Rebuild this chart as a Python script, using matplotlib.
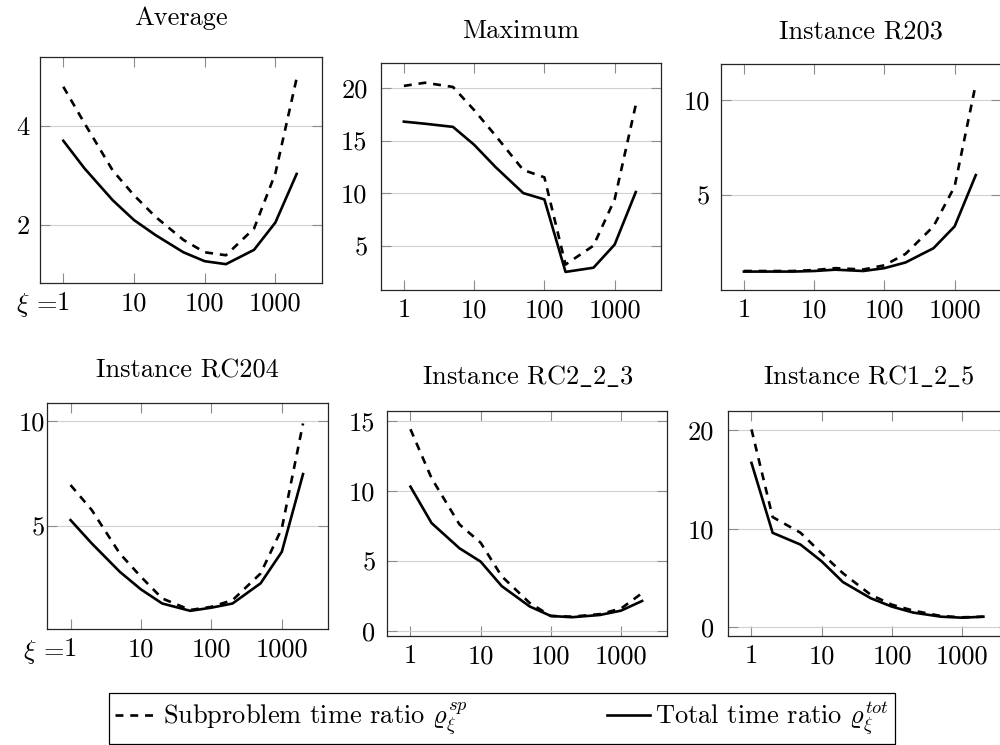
import matplotlib
matplotlib.use("Agg")
import matplotlib.pyplot as plt
from matplotlib.lines import Line2D

plt.rcParams['font.family'] = ['cmr10', 'DejaVu Serif']
plt.rcParams['mathtext.fontset'] = 'cm'
plt.rcParams['axes.unicode_minus'] = False
plt.rcParams['axes.formatter.use_mathtext'] = True

# ---------------- data ----------------
xi = [1, 2, 5, 10, 20, 50, 100, 200, 500, 1000, 2000]
x_ticks = [1, 10, 100, 1000]
x_ticklabels = ["1", "10", "100", "1000"]

titles = ["Average", "Maximum", "Instance R203",
          "Instance RC204", r"Instance RC2$\_$2$\_$3", r"Instance RC1$\_$2$\_$5"]

avg_sp = [4.79, 4.05, 3.10, 2.60, 2.17, 1.70, 1.45, 1.39, 1.93, 3.04, 4.96]
avg_tot = [3.70, 3.14, 2.50, 2.10, 1.80, 1.45, 1.27, 1.21, 1.50, 2.05, 3.03]

max_sp = [20.2, 20.5, 20.1, 17.9, 15.5, 12.2, 11.5, 3.2, 5.0, 9.4, 18.4]
max_tot = [16.8, 16.6, 16.3, 14.6, 12.5, 10.0, 9.4, 2.5, 2.9, 5.1, 10.1]

r203_sp = [1.0, 1.0, 1.0, 1.05, 1.15, 1.08, 1.3, 1.9, 3.35, 5.45, 10.85]
r203_tot = [0.97, 0.97, 0.97, 1.0, 1.07, 1.0, 1.15, 1.45, 2.2, 3.35, 6.05]

rc204_sp = [6.97, 5.78, 3.71, 2.6, 1.57, 1.02, 1.17, 1.49, 2.76, 4.9, 9.9]
rc204_tot = [5.3, 4.19, 2.84, 2.0, 1.33, 0.98, 1.13, 1.33, 2.29, 3.79, 7.49]

rc223_sp = [14.4, 10.9, 7.6, 6.3, 3.9, 2.0, 1.07, 1.02, 1.2, 1.6, 2.7]
rc223_tot = [10.3, 7.7, 5.9, 4.95, 3.2, 1.75, 1.07, 0.98, 1.14, 1.45, 2.14]

rc125_sp = [20.1, 11.2, 9.6, 7.5, 5.5, 3.3, 2.3, 1.7, 1.15, 1.02, 1.08]
rc125_tot = [16.7, 9.6, 8.4, 6.7, 4.6, 2.95, 2.1, 1.5, 1.08, 0.98, 1.08]

y_ticks = [[2, 4], [5, 10, 15, 20], [5, 10], [5, 10], [0, 5, 10, 15], [0, 10, 20]]
sp_series = [avg_sp, max_sp, r203_sp, rc204_sp, rc223_sp, rc125_sp]
tot_series = [avg_tot, max_tot, r203_tot, rc204_tot, rc223_tot, rc125_tot]

legend_labels = [r"Subproblem time ratio $\varrho_\xi^{sp}$",
                 r"Total time ratio $\varrho_\xi^{tot}$"]

# ---------------- layout ----------------
W, H = 1000, 745
boxes_px = [  # left, top, right, bottom in pixels
    (40, 57, 322, 283),
    (380.7, 63.3, 661, 290),
    (720.7, 64, 1001, 290),
    (47.3, 402.7, 328.3, 629.3),
    (387.3, 411, 667.3, 636),
    (728.3, 410.7, 1008.6, 636),
]
ylims = [(0.83, 5.39), (0.78, 22.35), (0.0, 11.9), (0.1, 10.89), (-0.36, 15.7), (-0.88, 22.0)]
title_pads = [23, 18.3, 18.5, 18.3, 19.2, 19.0]
ytick_pads = [7.5, 9.5, 7.5, 1.5, 8.5, 10]

FS = 19
fig = plt.figure(figsize=(W / 100, H / 100), dpi=100)

for i in range(6):
    l, t, r, b = boxes_px[i]
    ax = fig.add_axes([l / W, 1 - b / H, (r - l) / W, (b - t) / H])
    ax.plot(xi, sp_series[i], color='black', lw=1.9, dashes=(3.0, 2.6))
    ax.plot(xi, tot_series[i], color='black', lw=1.9)
    ax.set_xscale('log')
    ax.set_xlim(10 ** -0.33, 10 ** 3.66)
    ax.set_ylim(*ylims[i])
    ax.minorticks_off()
    ax.set_xticks(x_ticks, x_ticklabels)
    ax.set_yticks(y_ticks[i], [str(v) for v in y_ticks[i]])
    ax.tick_params(axis='both', which='major', direction='in', length=7.5, width=0.8,
                   color='0.55', labelsize=FS, top=True, right=True)
    ax.tick_params(axis='x', pad=6)
    ax.tick_params(axis='y', pad=ytick_pads[i])
    ax.yaxis.grid(True, color='0.82', lw=0.8)
    ax.set_axisbelow(True)
    for s in ax.spines.values():
        s.set_linewidth(0.9)
        s.set_color('0.15')
    ax.set_title(titles[i], fontsize=FS, pad=title_pads[i])
    if i in (0, 3):
        ax.annotate(r"$\xi$ =", xy=(1, 0), xycoords=('data', 'axes fraction'),
                    xytext=(-4.6, -6), textcoords='offset points',
                    ha='right', va='top', fontsize=FS)

handles = [Line2D([], [], color='black', lw=1.9, dashes=(3.0, 2.6)),
           Line2D([], [], color='black', lw=1.9)]
leg = fig.legend(handles, legend_labels, loc='center',
                 bbox_to_anchor=(502 / W, 1 - 718.5 / H), ncol=2, fontsize=FS,
                 frameon=True, fancybox=False, edgecolor='black', framealpha=1,
                 handlelength=1.6, handletextpad=0.2, columnspacing=5.3,
                 borderpad=0.25, borderaxespad=0)
leg.get_frame().set_linewidth(0.9)

fig.savefig("out.png", dpi=100)
